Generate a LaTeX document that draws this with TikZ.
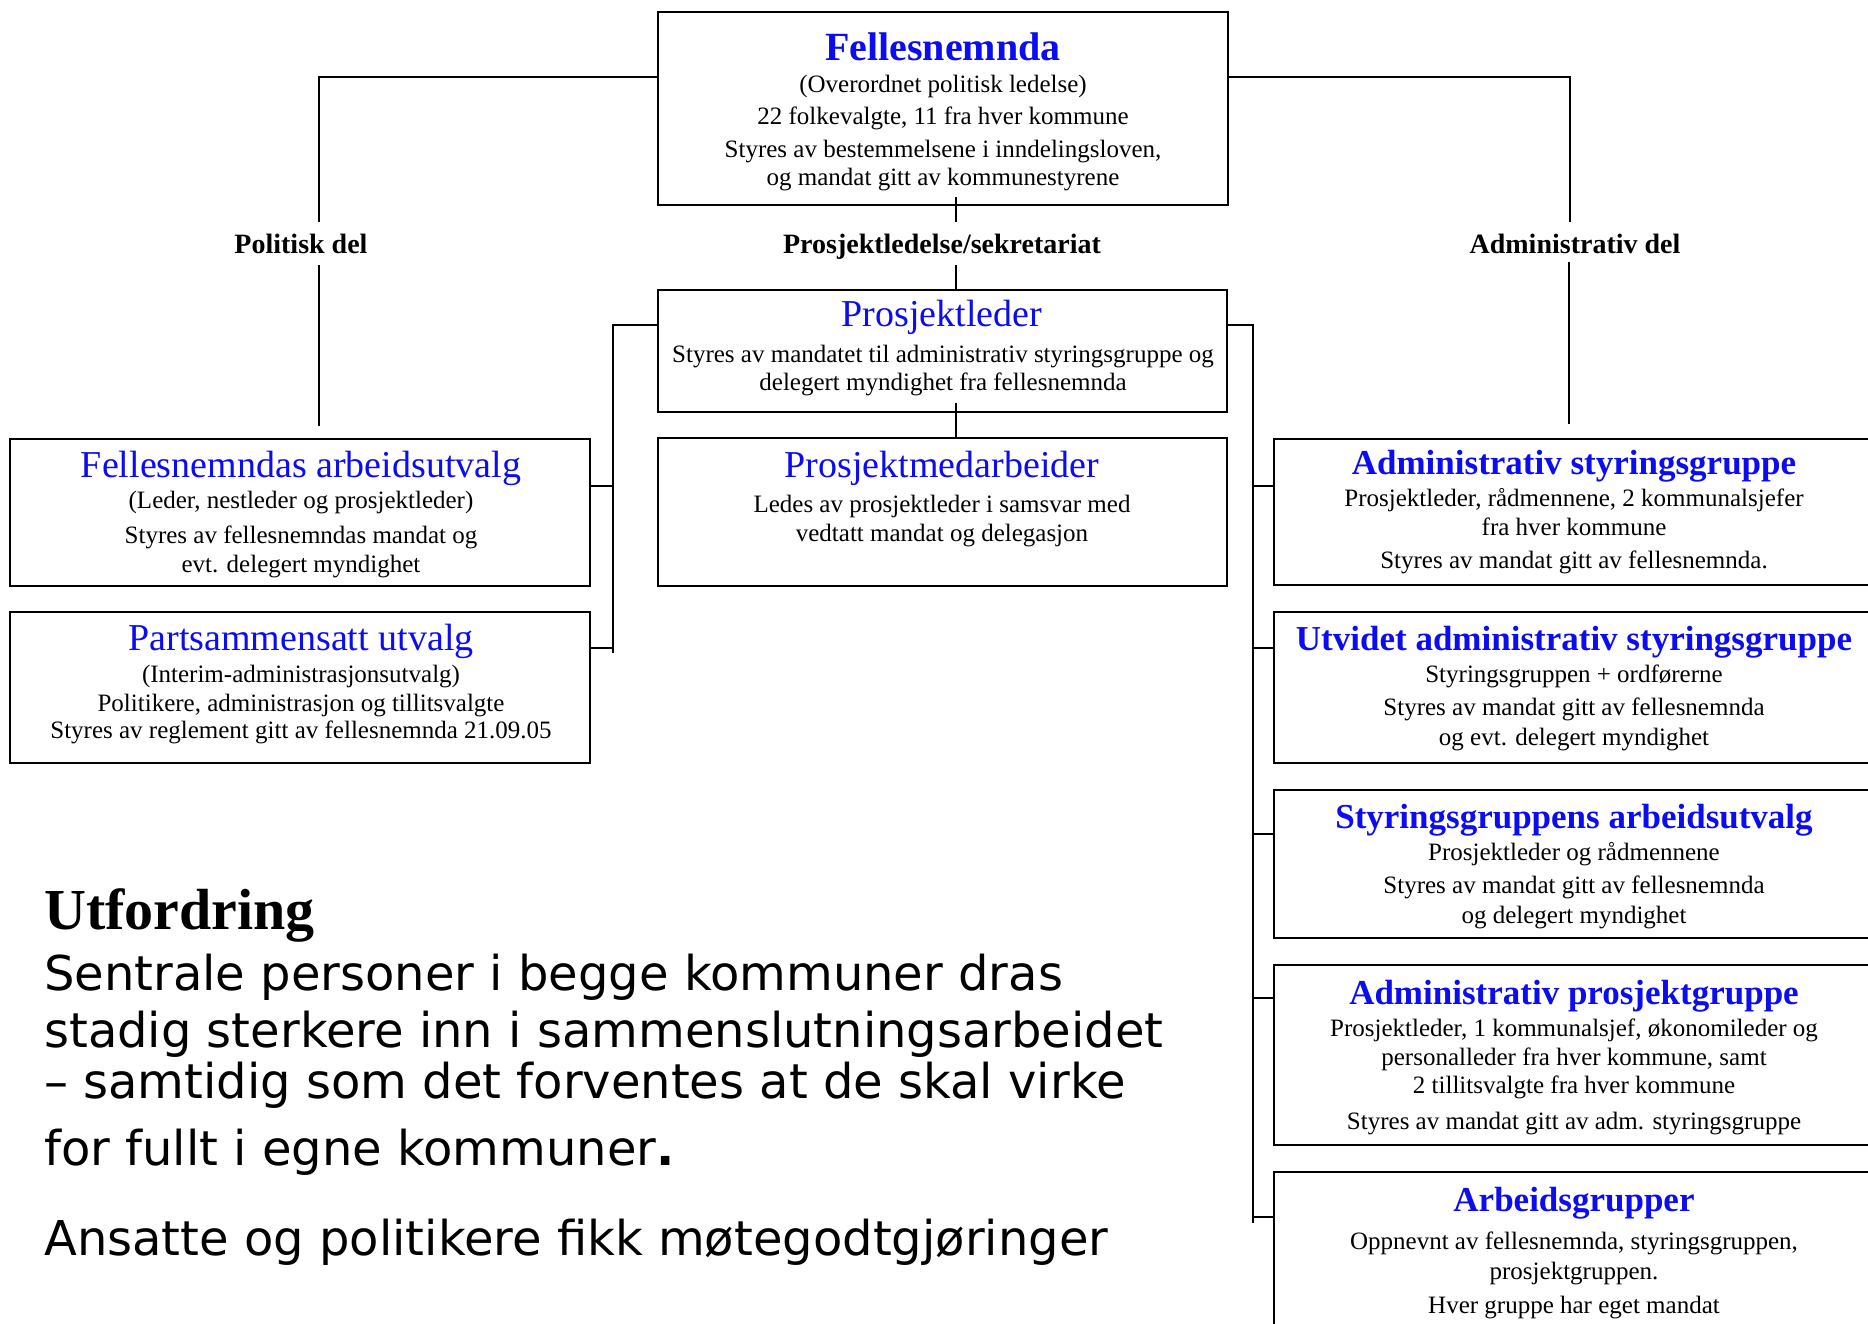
\documentclass[tikz,border=0pt]{standalone}
\usepackage{fontspec}
\setmainfont{Liberation Serif}
\newfontfamily\verd{DejaVu Sans}
\definecolor{tblue}{RGB}{12,12,240}
\begin{document}
\begin{tikzpicture}[x=1pt,y=-1pt,
  box/.style={draw=black, line width=2.4pt, inner sep=0pt, outer sep=0pt},
  conn/.style={draw=black, line width=2pt},
  ttlR/.style={anchor=base, inner sep=0pt, text=tblue, font=\fontsize{38}{40}\selectfont},
  ttlB/.style={anchor=base, inner sep=0pt, text=tblue, font=\bfseries\fontsize{35}{38}\selectfont},
  ttlF/.style={anchor=base, inner sep=0pt, text=tblue, font=\bfseries\fontsize{40}{44}\selectfont},
  txt/.style={anchor=base, inner sep=0pt, font=\fontsize{25}{29}\selectfont},
  lbl/.style={anchor=base, inner sep=0pt, font=\bfseries\fontsize{28}{30}\selectfont},
  bigt/.style={anchor=base west, inner sep=0pt, font=\verd\fontsize{48}{56}\selectfont},
  head/.style={anchor=base west, inner sep=0pt, font=\bfseries\fontsize{58}{62}\selectfont}]
\useasboundingbox (0,0) rectangle (1868,1323);
\fill[white] (0,0) rectangle (1868,1323);
\clip (0,0) rectangle (1868,1323);

% boxes
\node[box, minimum width=570pt, minimum height=193pt] (F)  at (943,108.5) {};
\node[box, minimum width=569pt, minimum height=122pt] (PL) at (942.5,351) {};
\node[box, minimum width=569pt, minimum height=148pt] (PM) at (942.5,512) {};
\node[box, minimum width=580pt, minimum height=147pt] (FA) at (300,512.5) {};
\node[box, minimum width=580pt, minimum height=151pt] (PU) at (300,687.5) {};
\node[box, minimum width=600pt, minimum height=146pt] (AS) at (1574,512) {};
\node[box, minimum width=600pt, minimum height=151pt] (UA) at (1574,687.5) {};
\node[box, minimum width=600pt, minimum height=148pt] (SA) at (1574,864) {};
\node[box, minimum width=600pt, minimum height=180pt] (AP) at (1574,1055) {};
\node[box, minimum width=600pt, minimum height=173pt] (AG) at (1574,1258.5) {};

% Fellesnemnda
\node[ttlF] (F0) at (943,60) {Fellesnemnda};
\node[txt] (F1) at (943,92) {(Overordnet politisk ledelse)};
\node[txt] (F2) at (943,124) {22 folkevalgte, 11 fra hver kommune};
\node[txt] (F3) at (943,157) {Styres av bestemmelsene i inndelingsloven,};
\node[txt] (F4) at (943,185) {og mandat gitt av kommunestyrene};

% Prosjektleder
\node[ttlR] (PL0) at (942,326) {Prosjektleder};
\node[txt] (PL1) at (943,362) {Styres av mandatet til administrativ styringsgruppe og};
\node[txt] (PL2) at (943,390) {delegert myndighet fra fellesnemnda};

% Prosjektmedarbeider
\node[ttlR] (PM0) at (942,477) {Prosjektmedarbeider};
\node[txt] (PM1) at (942,512) {Ledes av prosjektleder i samsvar med};
\node[txt] (PM2) at (942,541) {vedtatt mandat og delegasjon};

% Fellesnemndas arbeidsutvalg
\node[ttlR] (FA0) at (301,477) {Fellesnemndas arbeidsutvalg};
\node[txt] (FA1) at (301,508) {(Leder, nestleder og prosjektleder)};
\node[txt] (FA2) at (301,543) {Styres av fellesnemndas mandat og};
\node[txt] (FA3) at (301,572) {evt. delegert myndighet};

% Partsammensatt utvalg
\node[ttlR] (PU0) at (301,650) {Partsammensatt utvalg};
\node[txt] (PU1) at (301,682) {(Interim-administrasjonsutvalg)};
\node[txt] (PU2) at (301,711) {Politikere, administrasjon og tillitsvalgte};
\node[txt] (PU3) at (301,738) {Styres av reglement gitt av fellesnemnda 21.09.05};

% Administrativ styringsgruppe
\node[ttlB] (AS0) at (1574,474) {Administrativ styringsgruppe};
\node[txt] (AS1) at (1574,506) {Prosjektleder, rådmennene, 2 kommunalsjefer};
\node[txt] (AS2) at (1574,535) {fra hver kommune};
\node[txt] (AS3) at (1574,568) {Styres av mandat gitt av fellesnemnda.};

% Utvidet administrativ styringsgruppe
\node[ttlB] (UA0) at (1574,650) {Utvidet administrativ styringsgruppe};
\node[txt] (UA1) at (1574,682) {Styringsgruppen + ordførerne};
\node[txt] (UA2) at (1574,715) {Styres av mandat gitt av fellesnemnda};
\node[txt] (UA3) at (1574,745) {og evt. delegert myndighet};

% Styringsgruppens arbeidsutvalg
\node[ttlB] (SA0) at (1574,828) {Styringsgruppens arbeidsutvalg};
\node[txt] (SA1) at (1574,860) {Prosjektleder og rådmennene};
\node[txt] (SA2) at (1574,893) {Styres av mandat gitt av fellesnemnda};
\node[txt] (SA3) at (1574,923) {og delegert myndighet};

% Administrativ prosjektgruppe
\node[ttlB] (AP0) at (1574,1004) {Administrativ prosjektgruppe};
\node[txt] (AP1) at (1574,1036) {Prosjektleder, 1 kommunalsjef, økonomileder og};
\node[txt] (AP2) at (1574,1065) {personalleder fra hver kommune, samt};
\node[txt] (AP3) at (1574,1093) {2 tillitsvalgte fra hver kommune};
\node[txt] (AP4) at (1574,1129) {Styres av mandat gitt av adm. styringsgruppe};

% Arbeidsgrupper
\node[ttlB] (AG0) at (1574,1211) {Arbeidsgrupper};
\node[txt] (AG1) at (1574,1249) {Oppnevnt av fellesnemnda, styringsgruppen,};
\node[txt] (AG2) at (1574,1279) {prosjektgruppen.};
\node[txt] (AG3) at (1574,1313) {Hver gruppe har eget mandat};

% section labels
\node[lbl] (lPol) at (301,253) {Politisk del};
\node[lbl] (lPro) at (942,253) {Prosjektledelse/sekretariat};
\node[lbl] (lAdm) at (1575,253) {Administrativ del};

% connector points
\coordinate (pLa) at (319,77);
\coordinate (pLb) at (319,222);
\coordinate (pLc) at (319,265);
\coordinate (pLd) at (319,426);
\coordinate (pRa) at (1570,77);
\coordinate (pRb) at (1570,222);
\coordinate (pRc) at (1569,262);
\coordinate (pRd) at (1569,424);
\coordinate (pCa) at (956,197);
\coordinate (pCb) at (956,222);
\coordinate (pCc) at (956,265);
\coordinate (pCd) at (956,403);
\coordinate (bL) at (613,325);
\coordinate (bLe) at (613,653);
\coordinate (bR) at (1253,325);
\coordinate (bRe) at (1253,1223);

\draw[conn] (pLa -| F.west) -- (pLa) -- (pLb);
\draw[conn] (pLc) -- (pLd);
\draw[conn] (pRa -| F.east) -- (pRa) -- (pRb);
\draw[conn] (pRc) -- (pRd);
\draw[conn] (pCa) -- (pCb);
\draw[conn] (pCc) -- (pCc |- PL.north);
\draw[conn] (pCd) -- (pCd |- PM.north);

\draw[conn] (bL -| PL.west) -- (bL) -- (bLe);
\draw[conn] (FA.east |- 0,486) -- (bL |- 0,486);
\draw[conn] (PU.east |- 0,648) -- (bL |- 0,648);

\draw[conn] (bR -| PL.east) -- (bR) -- (bRe);
\draw[conn] (bR |- 0,486) -- (AS.west |- 0,486);
\draw[conn] (bR |- 0,648) -- (UA.west |- 0,648);
\draw[conn] (bR |- 0,834) -- (SA.west |- 0,834);
\draw[conn] (bR |- 0,998) -- (AP.west |- 0,998);
\draw[conn] (bR |- 0,1217) -- (AG.west |- 0,1217);

% bottom text
\node[head] (U0) at (44,929) {Utfordring};
\node[bigt] (U1) at (44,990) {Sentrale personer i begge kommuner dras};
\node[bigt] (U2) at (44,1047) {stadig sterkere inn i sammenslutningsarbeidet};
\node[bigt] (U3) at (44,1098) {– samtidig som det forventes at de skal virke};
\node[bigt] (U4) at (44,1165) {for fullt i egne kommuner{\bfseries .}};
\node[bigt] (U5) at (44,1255) {Ansatte og politikere fikk møtegodtgjøringer};
\end{tikzpicture}
\end{document}
